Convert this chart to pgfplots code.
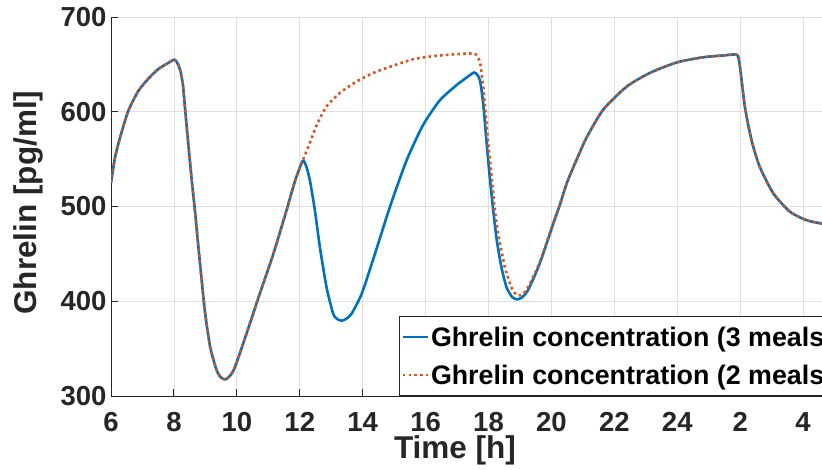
\documentclass[border=0pt]{standalone}
\usepackage{pgfplots}
\pgfplotsset{compat=1.18}
\usepackage{fontspec}
\setmainfont{Liberation Sans}
\definecolor{mblue}{RGB}{0,114,189}
\definecolor{mred}{RGB}{217,83,25}
\definecolor{mgrid}{RGB}{223,223,223}
\definecolor{maxis}{RGB}{38,38,38}
\begin{document}
\begin{tikzpicture}
\begin{axis}[
  at={(111pt,73pt)}, anchor=south west,
  scale only axis, width=711pt, height=379pt,
  xmin=6, xmax=28.6, ymin=300, ymax=700,
  xtick={6,8,...,28},
  xticklabels={6,8,10,12,14,16,18,20,22,24,2,4},
  ytick={300,400,...,700},
  grid=major,
  major grid style={color=mgrid, line width=0.8pt},
  axis lines=left,
  axis line style={-, draw=maxis, line width=0.9pt},
  tick style={draw=maxis, line width=0.9pt},
  major tick length=7pt,
  tick align=inside,
  /pgf/number format/assume math mode=true,
  ticklabel style={font=\bfseries\fontsize{27.5}{27.5}\selectfont, text=maxis},
  xticklabel style={yshift=-13pt},
  yticklabel style={xshift=-1pt},
  xlabel={Time [h]},
  ylabel={Ghrelin [pg/ml]},
  label style={font=\bfseries\fontsize{31.5}{31.5}\selectfont, text=maxis},
  xlabel style={at={(axis description cs:0.4838,-0.1425)}, anchor=center},
  ylabel style={at={(axis description cs:-0.1167,0.51)}, anchor=center},
  legend cell align=left,
  legend image code/.code={\draw[#1] (0pt,0pt) -- (25pt,0pt);},
  legend style={at={(axis description cs:0.405,0)}, anchor=south west,
    draw=maxis, line width=0.9pt, fill=white,
    font=\bfseries\fontsize{26.8}{26.8}\selectfont,
    inner xsep=2pt, inner ysep=2pt, row sep=1pt,
    nodes={inner xsep=2pt, inner ysep=8pt}},
]
\addplot[mblue, line width=2.6pt, line join=round, smooth, tension=0.4] coordinates {
(6.00,525) (6.13,552) (6.29,573) (6.55,601) (6.87,622) (7.19,635) (7.50,645)
(7.82,651.5) (8.01,655) (8.10,652) (8.19,645) (8.28,630) (8.35,605) (8.46,565)
(8.56,530) (8.67,495) (8.77,460) (8.88,423) (8.99,388) (9.15,352) (9.36,327)
(9.50,319.5) (9.64,317.5) (9.80,322) (9.94,330.5) (10.31,366) (10.73,408)
(11.16,450) (11.58,496) (11.85,527) (12.09,548) (12.20,543) (12.32,528)
(12.48,496) (12.64,457) (12.85,415) (13.06,387) (13.20,381) (13.33,379.5)
(13.48,381.5) (13.65,387) (13.97,408) (14.39,450) (14.87,500) (15.40,549)
(15.92,586) (16.45,612) (16.98,628) (17.30,636) (17.54,641.5) (17.64,639)
(17.73,633) (17.83,609) (17.94,567) (18.04,531) (18.15,496) (18.26,465)
(18.41,436) (18.57,415) (18.75,404.5) (18.91,402) (19.06,404) (19.26,412)
(19.63,440) (20.06,482) (20.27,502) (20.48,524) (20.69,541) (20.90,557)
(21.12,573) (21.64,602) (22.39,626.5) (23.13,641) (23.98,652) (24.82,657.5)
(25.50,659.5) (25.90,660) (25.99,648) (26.15,605) (26.36,570) (26.62,542)
(27.05,514) (27.58,494.5) (28.11,485.5) (28.60,482)
};
\addlegendentry{Ghrelin concentration (3 meals)}
\addplot[mred, line width=2.6pt, line cap=butt, dash pattern=on 2.6pt off 3.2pt, smooth, tension=0.4] coordinates {
(6.00,525) (6.13,552) (6.29,573) (6.55,601) (6.87,622) (7.19,635) (7.50,645)
(7.82,651.5) (8.01,655) (8.10,652) (8.19,645) (8.28,630) (8.35,605) (8.46,565)
(8.56,530) (8.67,495) (8.77,460) (8.88,423) (8.99,388) (9.15,352) (9.36,327)
(9.50,319.5) (9.64,317.5) (9.80,322) (9.94,330.5) (10.31,366) (10.73,408)
(11.16,450) (11.58,496) (11.85,527) (12.09,548) (12.32,567) (12.54,586)
(12.85,605.5) (13.28,620) (13.81,632) (14.34,641) (14.87,647.5) (15.61,655.5)
(16.20,658.5) (16.67,660) (17.10,661) (17.55,661.5) (17.62,659) (17.73,652)
(17.83,627) (17.88,609) (17.99,567) (18.10,531) (18.20,496) (18.34,465)
(18.52,436) (18.68,419) (18.80,410) (18.94,406) (19.10,408) (19.26,415)
(19.63,441.5) (20.06,483) (20.27,502) (20.48,524) (20.69,541) (20.90,557)
(21.12,573) (21.64,602) (22.39,626.5) (23.13,641) (23.98,652) (24.82,657.5)
(25.50,659.5) (25.90,660) (25.99,648) (26.15,605) (26.36,570) (26.62,542)
(27.05,514) (27.58,494.5) (28.11,485.5) (28.60,482)
};
\addlegendentry{Ghrelin concentration (2 meals)}
\end{axis}
\pgfresetboundingbox
\useasboundingbox (0,0) rectangle (822pt,469pt);
\end{tikzpicture}
\end{document}
